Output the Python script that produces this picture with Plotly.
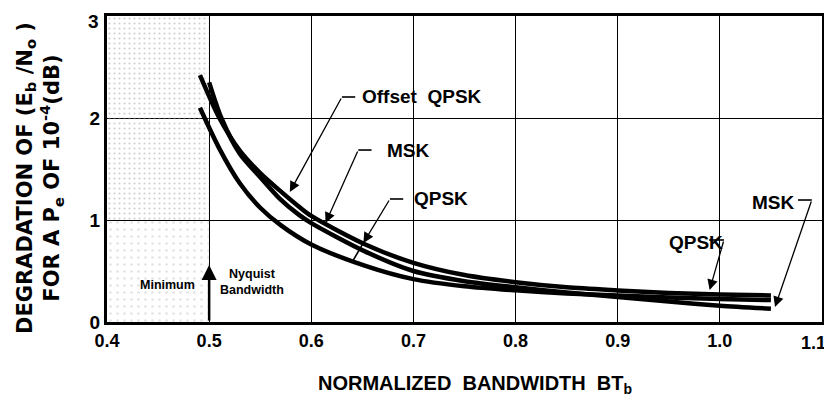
import plotly.graph_objects as go

# ---- data ----
x_ticks = [0.4, 0.5, 0.6, 0.7, 0.8, 0.9, 1.0, 1.1]
x_tick_labels = ["0.4", "0.5", "0.6", "0.7", "0.8", "0.9", "1.0", "1.1"]
y_ticks = [0, 1, 2, 3]
y_tick_labels = ["0", "1", "2", "3"]

oqpsk_x = [0.491, 0.51, 0.53, 0.55, 0.569, 0.588, 0.6, 0.653, 0.7, 0.75, 0.8, 0.85, 0.9, 0.95, 1.0, 1.05]
oqpsk_y = [2.42, 2.0, 1.68, 1.46, 1.29, 1.13, 1.04, 0.76, 0.58, 0.46, 0.39, 0.34, 0.31, 0.285, 0.27, 0.26]

msk_x = [0.5, 0.512, 0.53, 0.55, 0.569, 0.588, 0.6, 0.653, 0.7, 0.75, 0.8, 0.85, 0.9, 0.95, 1.0, 1.05]
msk_y = [2.35, 2.0, 1.65, 1.42, 1.21, 1.05, 0.97, 0.69, 0.50, 0.40, 0.34, 0.29, 0.245, 0.20, 0.16, 0.13]

qpsk_x = [0.491, 0.51, 0.53, 0.55, 0.57, 0.6, 0.653, 0.7, 0.75, 0.8, 0.85, 0.9, 0.95, 1.0, 1.05]
qpsk_y = [2.10, 1.70, 1.36, 1.12, 0.95, 0.76, 0.55, 0.42, 0.35, 0.31, 0.28, 0.26, 0.24, 0.225, 0.215]

nyquist_x = 0.5
region_x = [0.4, 0.5]

BOLD = "Liberation Sans"
fig = go.Figure()

# stippled "minimum" region
fig.add_trace(go.Scatter(
    x=[region_x[0], region_x[1], region_x[1], region_x[0], region_x[0]],
    y=[1, 1, 3, 3, 1], mode="lines", line=dict(width=0), fill="toself",
    fillcolor="rgba(0,0,0,0)",
    fillpattern=dict(shape=".", fgcolor="#a0a0a0", bgcolor="rgba(0,0,0,0)", size=5, solidity=0.15),
    showlegend=False, hoverinfo="skip"))
fig.add_trace(go.Scatter(
    x=[region_x[0], region_x[1], region_x[1], region_x[0], region_x[0]],
    y=[0, 0, 1, 1, 0], mode="lines", line=dict(width=0), fill="toself",
    fillcolor="rgba(0,0,0,0)",
    fillpattern=dict(shape=".", fgcolor="#c8c8c8", bgcolor="rgba(0,0,0,0)", size=7, solidity=0.12),
    showlegend=False, hoverinfo="skip"))

for xs, ys, name in [(oqpsk_x, oqpsk_y, "Offset QPSK"), (msk_x, msk_y, "MSK"), (qpsk_x, qpsk_y, "QPSK")]:
    fig.add_trace(go.Scatter(x=xs, y=ys, mode="lines", name=name,
                             line=dict(color="black", width=4.5, shape="spline", smoothing=0.8),
                             showlegend=False))

lab_font = dict(family=BOLD, size=19, color="black", weight="bold")

def label(text, x, y):
    fig.add_annotation(x=x, y=y, text=text, showarrow=False, xanchor="left", yanchor="middle",
                       font=lab_font, xref="x", yref="y")

def arrow(x0, y0, x1, y1, head=2):
    fig.add_annotation(x=x1, y=y1, ax=x0, ay=y0, axref="x", ayref="y", xref="x", yref="y",
                       text="", showarrow=True, arrowhead=head, arrowsize=1.6, arrowwidth=1.3,
                       arrowcolor="black")

def seg(x0, y0, x1, y1, w=1.6):
    fig.add_shape(type="line", x0=x0, y0=y0, x1=x1, y1=y1, xref="x", yref="y",
                  line=dict(color="black", width=w))

# Offset QPSK
label("Offset  QPSK", 0.648, 2.206)
seg(0.630, 2.206, 0.643, 2.206)
arrow(0.630, 2.206, 0.579, 1.275)
# MSK (middle)
label("MSK", 0.672, 1.686)
seg(0.646, 1.686, 0.659, 1.686)
arrow(0.646, 1.686, 0.614, 0.971)
# QPSK (middle)
label("QPSK", 0.699, 1.206)
seg(0.677, 1.206, 0.690, 1.206)
arrow(0.677, 1.206, 0.651, 0.775)
seg(0.651, 0.775, 0.640, 0.588)
# MSK (right)
label("MSK", 1.0295, 1.176)
seg(1.0765, 1.196, 1.090, 1.196)
arrow(1.090, 1.196, 1.054, 0.147)
# QPSK (right)
label("QPSK", 0.948, 0.784)
seg(0.9895, 0.804, 1.004, 0.804)
arrow(1.004, 0.804, 0.990, 0.314)

# Nyquist arrow and notes
fig.add_annotation(x=nyquist_x, y=0.56, ax=nyquist_x, ay=0.0, axref="x", ayref="y",
                   text="", showarrow=True, arrowhead=2, arrowsize=1.2, arrowwidth=2.5,
                   arrowcolor="black")
small = dict(family=BOLD, size=12.5, color="black", weight="bold")
fig.add_annotation(x=0.459, y=0.363, text="Minimum", showarrow=False, font=small)
fig.add_annotation(x=0.509, y=0.39, text="Nyquist<br>Bandwidth", showarrow=False,
                   xanchor="left", align="center", font=small)

# end tick labels (nudged inward, as in the reference, so they are not cut at the edge)
fig.add_annotation(x=x_ticks[-1], xref="x", y=0, yref="paper", text=x_tick_labels[-1],
                   showarrow=False, xanchor="center", yanchor="middle", xshift=-9, yshift=-21,
                   font=dict(family=BOLD, size=18, color="black", weight="bold"))
fig.add_annotation(x=0, xref="paper", y=y_ticks[-1], yref="y", text=y_tick_labels[-1],
                   showarrow=False, xanchor="right", yanchor="middle", xshift=-6, yshift=-5,
                   font=dict(family=BOLD, size=19, color="black", weight="bold"))

# axis titles
fig.add_annotation(xref="paper", yref="paper", x=0.5147, y=-0.205, showarrow=False,
                   xanchor="center", yanchor="middle",
                   text="NORMALIZED  BANDWIDTH  BT<sub>b</sub>",
                   font=dict(family=BOLD, size=20, color="black", weight="bold"))
fig.add_annotation(xref="paper", yref="paper", x=-0.0937, y=0.4706, showarrow=False,
                   xanchor="center", yanchor="middle", textangle=-90, align="center",
                   text="DEGRADATION OF (E<sub>b</sub> /N<sub>o</sub> )<br>FOR A P<sub>e</sub> OF 10<sup>-4</sup>(dB)",
                   font=dict(family="DejaVu Sans", size=21, color="black", weight="bold"))

# the page body has an 8px margin, so the figure is 8px smaller and margins shifted
fig.update_layout(
    width=824, height=393,
    margin=dict(l=99, r=10, t=8, b=79, autoexpand=False),
    paper_bgcolor="white", plot_bgcolor="white",
    font=dict(family=BOLD, color="black"),
    xaxis=dict(range=[0.4, 1.1], tickvals=x_ticks[:-1], ticktext=x_tick_labels[:-1],
               showgrid=True, gridcolor="black", gridwidth=1.3, zeroline=False,
               showline=True, linecolor="black", linewidth=3, mirror=True, ticks="",
               automargin=False, ticklabeloverflow="allow",
               tickfont=dict(family=BOLD, size=18, weight="bold")),
    yaxis=dict(range=[0, 3], tickvals=y_ticks[:-1], ticktext=y_tick_labels[:-1],
               showgrid=True, gridcolor="black", gridwidth=1.3,
               zeroline=False, showline=True, linecolor="black", linewidth=3, mirror=True,
               ticks="", automargin=False, ticklabeloverflow="allow",
               tickfont=dict(family=BOLD, size=19, weight="bold")),
)

fig.write_html("out.html")
